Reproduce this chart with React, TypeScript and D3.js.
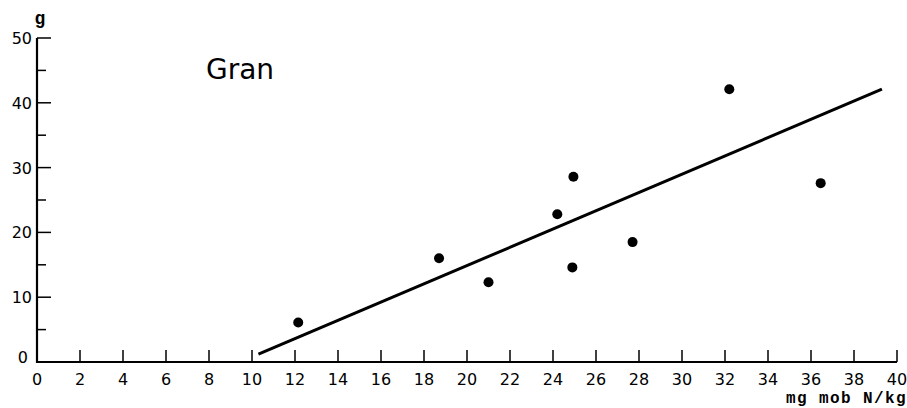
import { useEffect, useRef } from "react";
import * as d3 from "d3";

// measured points (mg mob N/kg vs g)
const nitrogen = [12.15, 18.7, 21.0, 24.2, 24.95, 24.9, 27.7, 32.2, 36.45];
const weight = [6.1, 16.0, 12.3, 22.8, 28.6, 14.6, 18.5, 42.1, 27.6];

// fitted line endpoints
const fitX = [10.3, 39.3];
const fitY = [1.2, 42.1];

const xTicks = d3.range(0, 41, 2);
const yMajor = [0, 10, 20, 30, 40, 50];
const yMinor = [5, 15, 25, 35, 45];

const W = 907;
const H = 408;

export default function App() {
  const svgRef = useRef<SVGSVGElement>(null);

  useEffect(() => {
    if (!svgRef.current) return;
    const svg = d3.select(svgRef.current);
    svg.selectAll("*").remove();

    const margin = { top: 38, right: 10, bottom: 46, left: 37 };
    const x = d3.scaleLinear().domain([0, 40]).range([margin.left, W - margin.right]);
    const y = d3.scaleLinear().domain([0, 50]).range([H - margin.bottom, margin.top]);

    const sans = "'DejaVu Sans', sans-serif";
    const mono = "'Liberation Mono', 'DejaVu Sans Mono', monospace";

    // axes
    svg
      .append("line")
      .attr("x1", x(0))
      .attr("x2", x(0))
      .attr("y1", y(0) + 1)
      .attr("y2", y(50))
      .attr("stroke", "#000")
      .attr("stroke-width", 2.2);
    svg
      .append("line")
      .attr("x1", x(0) - 1)
      .attr("x2", x(40))
      .attr("y1", y(0))
      .attr("y2", y(0))
      .attr("stroke", "#000")
      .attr("stroke-width", 2.2);

    // x ticks point upward
    svg
      .append("g")
      .selectAll("line")
      .data(xTicks.filter((d) => d > 0))
      .join("line")
      .attr("x1", (d) => x(d))
      .attr("x2", (d) => x(d))
      .attr("y1", y(0))
      .attr("y2", y(0) - 12)
      .attr("stroke", "#000")
      .attr("stroke-width", 1.5);

    svg
      .append("g")
      .selectAll("text")
      .data(xTicks)
      .join("text")
      .attr("x", (d) => x(d))
      .attr("y", y(0) + 23)
      .attr("text-anchor", "middle")
      .attr("font-family", sans)
      .attr("font-size", "16px")
      .attr("fill", "#000")
      .text((d) => d);

    // y ticks point right
    svg
      .append("g")
      .selectAll("line")
      .data(yMajor.filter((d) => d > 0))
      .join("line")
      .attr("x1", x(0))
      .attr("x2", x(0) + 14)
      .attr("y1", (d) => y(d))
      .attr("y2", (d) => y(d))
      .attr("stroke", "#000")
      .attr("stroke-width", 1.5);
    svg
      .append("g")
      .selectAll("line")
      .data(yMinor)
      .join("line")
      .attr("x1", x(0))
      .attr("x2", x(0) + 9)
      .attr("y1", (d) => y(d))
      .attr("y2", (d) => y(d))
      .attr("stroke", "#000")
      .attr("stroke-width", 1.5);

    svg
      .append("g")
      .selectAll("text")
      .data(yMajor)
      .join("text")
      .attr("x", (d) => (d === 0 ? x(0) - 9 : x(0) - 5))
      .attr("y", (d) => (d === 0 ? y(d) + 1 : y(d) + 6))
      .attr("text-anchor", "end")
      .attr("font-family", sans)
      .attr("font-size", "16px")
      .attr("fill", "#000")
      .text((d) => d);

    // axis titles
    svg
      .append("text")
      .attr("x", 40)
      .attr("y", 24)
      .attr("text-anchor", "middle")
      .attr("font-family", mono)
      .attr("font-weight", "bold")
      .attr("font-size", "18px")
      .text("g");
    svg
      .append("text")
      .attr("x", W)
      .attr("y", 403)
      .attr("text-anchor", "end")
      .attr("font-family", mono)
      .attr("font-weight", "bold")
      .attr("font-size", "16px")
      .attr("letter-spacing", "1.4px")
      .text("mg mob N/kg");

    // panel title
    svg
      .append("text")
      .attr("x", 206)
      .attr("y", 79)
      .attr("font-family", sans)
      .attr("font-size", "28px")
      .text("Gran");

    // regression line
    const line = d3
      .line<number>()
      .x((d) => x(d))
      .y((_, i) => y(fitY[i]));
    svg
      .append("path")
      .attr("d", line(fitX))
      .attr("fill", "none")
      .attr("stroke", "#000")
      .attr("stroke-width", 3);

    // points
    svg
      .append("g")
      .selectAll("circle")
      .data(nitrogen)
      .join("circle")
      .attr("cx", (d) => x(d))
      .attr("cy", (_, i) => y(weight[i]))
      .attr("r", 5)
      .attr("fill", "#000");
  }, []);

  return (
    <svg
      ref={svgRef}
      width={W}
      height={H}
      style={{ position: "absolute", left: 0, top: 0, background: "#fff" }}
      role="img"
      aria-label="Gran scatter plot"
    />
  );
}
